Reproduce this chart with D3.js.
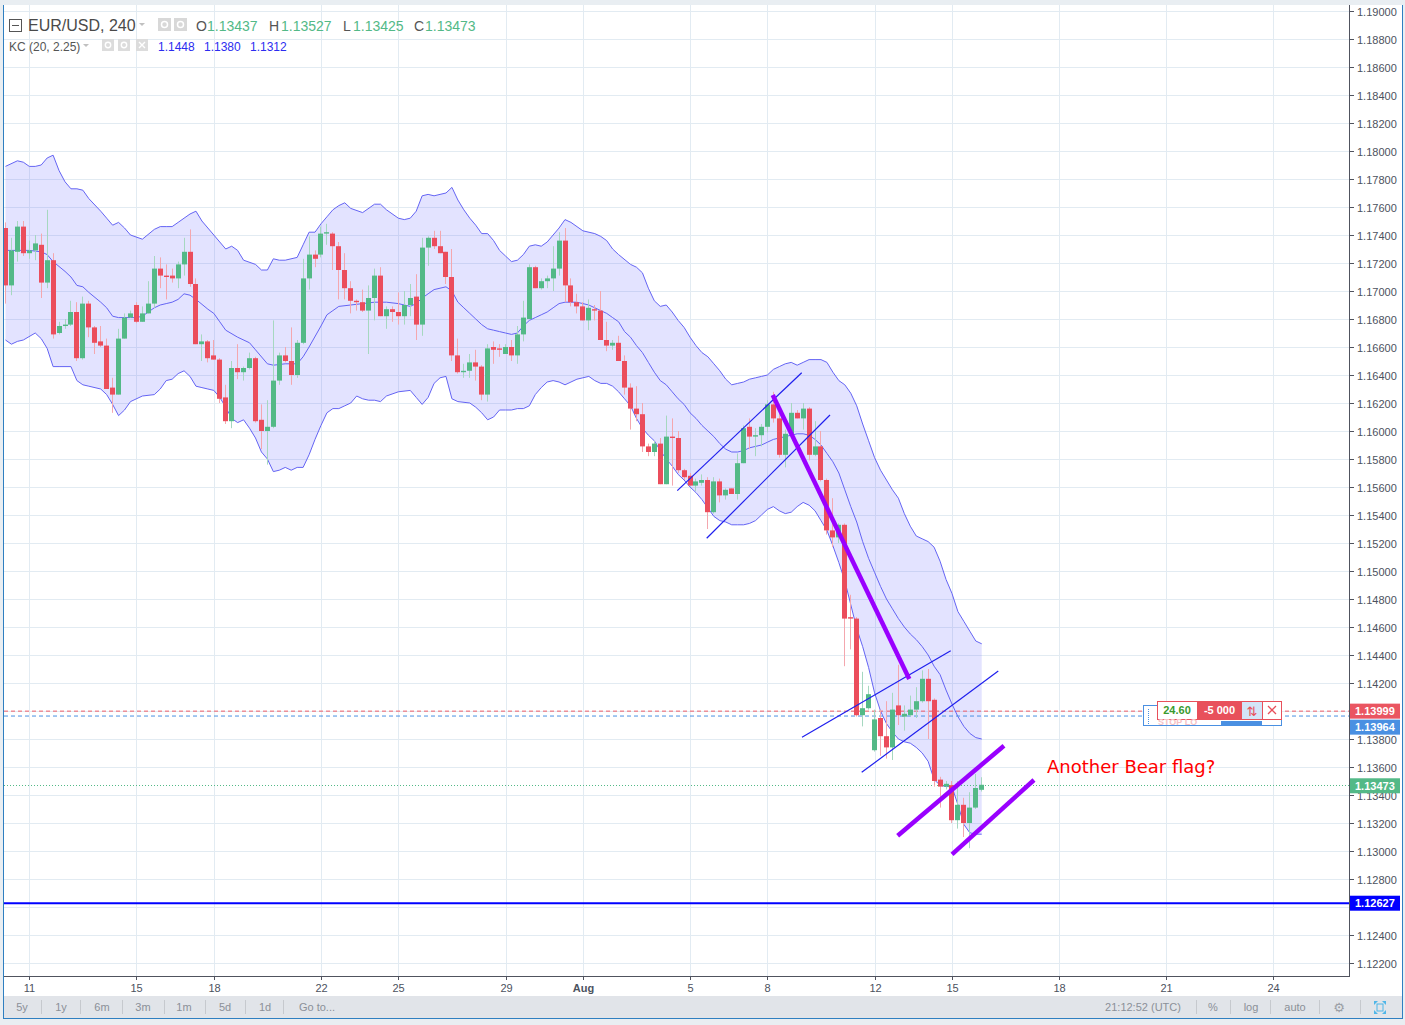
<!DOCTYPE html>
<html><head><meta charset="utf-8">
<script src="https://cdn.jsdelivr.net/npm/d3@7"></script>
<style>body{margin:0;background:#e9eef2;overflow:hidden}svg{display:block}</style>
</head><body><svg id="c" width="1405" height="1025"></svg>
<script>
// ---------------- DATA ----------------
const symbol = "EUR/USD, 240";
const indicatorName = "KC (20, 2.25)";
const headerOHLC = [["O","1.13437"],["H","1.13527"],["L","1.13425"],["C","1.13473"]];
const kcLast = ["1.1448","1.1380","1.1312"];
const startIndex = -4; // first visible bar, relative to the "11" tick
const opens = [
1.1745,1.1704,1.1728,1.1746,1.1727,1.1729,1.1733,1.1706,1.1722,1.1670,
1.1675,1.1676,1.1685,1.1652,1.1691,1.1674,1.1664,1.1661,1.1631,1.1626,
1.1666,1.1681,1.1690,1.1678,1.1684,1.1691,1.1716,1.1711,1.1711,1.1709,
1.1719,1.1728,1.1705,1.1662,1.1664,1.1654,1.1651,1.1624,1.1607,1.1645,
1.1642,1.1645,1.1652,1.1608,1.1600,1.1603,1.1636,1.1654,1.1650,1.1640,
1.1663,1.1709,1.1726,1.1726,1.1741,1.1741,1.1732,1.1715,1.1702,1.1693,
1.1692,1.1686,1.1695,1.1711,1.1682,1.1687,1.1685,1.1682,1.1690,1.1696,
1.1676,1.1731,1.1738,1.1732,1.1728,1.1710,1.1654,1.1642,1.1643,1.1649,
1.1646,1.1626,1.1660,1.1659,1.1655,1.1660,1.1654,1.1669,1.1680,1.1717,
1.1702,1.1707,1.1709,1.1716,1.1736,1.1704,1.1692,1.1689,1.1679,1.1687,
1.1686,1.1665,1.1661,1.1663,1.1650,1.1631,1.1616,1.1612,1.1589,1.1585,
1.1591,1.1562,1.1596,1.1595,1.1572,1.1568,1.1561,1.1563,1.1565,1.1542,
1.1564,1.1554,1.1559,1.1555,1.1577,1.1603,1.1596,1.1597,1.1603,1.1619,
1.1609,1.1583,1.1598,1.1613,1.1609,1.1616,1.1583,1.1589,1.1565,1.1529,
1.1524,1.1533,1.1467,1.1466,1.1397,1.1402,1.1372,1.1395,1.1382,1.1374,
1.1404,1.1396,1.1397,1.1401,1.1407,1.1423,1.1408,1.1351,1.1346,1.1347,
1.1322,1.1333,1.1320,1.1331,1.13437];
const highs = [
1.1749,1.1738,1.1750,1.1750,1.1736,1.1740,1.1741,1.1758,1.1727,1.1678,
1.1680,1.1693,1.1692,1.1696,1.1693,1.1675,1.1675,1.1666,1.1638,1.1673,
1.1684,1.1686,1.1692,1.1689,1.1707,1.1725,1.1724,1.1719,1.1716,1.1721,
1.1738,1.1744,1.1709,1.1669,1.1665,1.1665,1.1652,1.1633,1.1650,1.1662,
1.1646,1.1656,1.1653,1.1619,1.1622,1.1679,1.1656,1.1660,1.1674,1.1665,
1.1723,1.1739,1.1729,1.1746,1.1748,1.1742,1.1735,1.1727,1.1707,1.1694,
1.1701,1.1704,1.1716,1.1717,1.1689,1.1689,1.1699,1.1700,1.1705,1.1712,
1.1738,1.1739,1.1743,1.1743,1.1728,1.1730,1.1666,1.1648,1.1655,1.1658,
1.1647,1.1662,1.1664,1.1662,1.1662,1.1665,1.1675,1.1693,1.1719,1.1718,
1.1709,1.1711,1.1732,1.1742,1.1745,1.1709,1.1698,1.1692,1.1694,1.1690,
1.1700,1.1678,1.1665,1.1668,1.1654,1.1634,1.1632,1.1620,1.1591,1.1593,
1.1595,1.1611,1.1609,1.1600,1.1573,1.1570,1.1566,1.1569,1.1567,1.1567,
1.1566,1.1559,1.1559,1.1584,1.1604,1.1609,1.1602,1.1605,1.1622,1.1628,
1.1616,1.1601,1.1620,1.1615,1.1620,1.1617,1.1607,1.1600,1.1566,1.1552,
1.1534,1.1534,1.1483,1.1467,1.1428,1.1418,1.1401,1.1401,1.1407,1.1413,
1.1433,1.1404,1.1411,1.1417,1.1429,1.1430,1.1409,1.1353,1.1350,1.1350,
1.1350,1.1338,1.1342,1.1355,1.13527];
const lows = [
1.1691,1.1697,1.1721,1.1725,1.1723,1.1722,1.1695,1.1702,1.1666,1.1669,
1.1673,1.1675,1.1650,1.1651,1.1667,1.1655,1.1660,1.1630,1.1613,1.1626,
1.1666,1.1681,1.1677,1.1678,1.1684,1.1688,1.1702,1.1694,1.1706,1.1702,
1.1711,1.1703,1.1662,1.1650,1.1649,1.1651,1.1620,1.1605,1.1602,1.1637,
1.1636,1.1644,1.1606,1.1587,1.1576,1.1602,1.1633,1.1649,1.1633,1.1638,
1.1662,1.1701,1.1717,1.1724,1.1733,1.1715,1.1694,1.1694,1.1684,1.1686,
1.1685,1.1655,1.1679,1.1682,1.1673,1.1678,1.1676,1.1676,1.1682,1.1665,
1.1668,1.1718,1.1730,1.1727,1.1705,1.1650,1.1641,1.1638,1.1638,1.1636,
1.1622,1.1621,1.1648,1.1653,1.1655,1.1650,1.1648,1.1664,1.1680,1.1702,
1.1701,1.1702,1.1700,1.1711,1.1692,1.1689,1.1684,1.1679,1.1672,1.1679,
1.1665,1.1657,1.1658,1.1650,1.1626,1.1601,1.1607,1.1585,1.1582,1.1582,
1.1562,1.1562,1.1561,1.1570,1.1565,1.1561,1.1557,1.1561,1.1530,1.1541,
1.1549,1.1551,1.1555,1.1551,1.1577,1.1587,1.1582,1.1589,1.1599,1.1606,
1.1581,1.1574,1.1597,1.1609,1.1601,1.1579,1.1582,1.1564,1.1526,1.1517,
1.1520,1.1432,1.1444,1.1396,1.1389,1.1401,1.1371,1.1368,1.1366,1.1365,
1.1390,1.1386,1.1396,1.1395,1.1406,1.1380,1.1346,1.1331,1.1344,1.1320,
1.1316,1.1310,1.1302,1.1330,1.13425];
const closes = [
1.1704,1.1729,1.1746,1.1727,1.1729,1.1734,1.1706,1.1722,1.1669,1.1675,
1.1676,1.1685,1.1652,1.1691,1.1674,1.1663,1.1661,1.1630,1.1626,1.1666,
1.1681,1.1684,1.1678,1.1684,1.1691,1.1716,1.1711,1.1710,1.1709,1.1719,
1.1728,1.1705,1.1662,1.1664,1.1652,1.1651,1.1623,1.1607,1.1645,1.1642,
1.1645,1.1652,1.1607,1.1600,1.1603,1.1636,1.1654,1.1650,1.1640,1.1663,
1.1709,1.1726,1.1723,1.1741,1.1742,1.1732,1.1715,1.1702,1.1693,1.1692,
1.1686,1.1695,1.1711,1.1682,1.1687,1.1685,1.1682,1.1690,1.1695,1.1676,
1.1731,1.1738,1.1732,1.1727,1.1710,1.1654,1.1642,1.1643,1.1649,1.1646,
1.1626,1.1659,1.1658,1.1658,1.1660,1.1654,1.1669,1.1681,1.1717,1.1702,
1.1707,1.1709,1.1716,1.1736,1.1704,1.1692,1.1689,1.1679,1.1688,1.1686,
1.1665,1.1661,1.1663,1.1650,1.1631,1.1616,1.1612,1.1589,1.1585,1.1591,
1.1562,1.1596,1.1595,1.1572,1.1567,1.1561,1.1564,1.1565,1.1542,1.1564,
1.1554,1.1558,1.1555,1.1577,1.1602,1.1596,1.1597,1.1603,1.1619,1.1609,
1.1583,1.1598,1.1613,1.1609,1.1616,1.1583,1.1589,1.1565,1.1529,1.1524,
1.1533,1.1466,1.1466,1.1397,1.1402,1.1412,1.1394,1.1382,1.1374,1.1401,
1.1397,1.1398,1.1401,1.1407,1.1423,1.1407,1.1350,1.1346,1.1348,1.1322,
1.1333,1.1320,1.1331,1.1345,1.13473];

// Keltner channel: [bar index, price]
const kcUpper = [[-4,1.1789],[-2,1.1793],[-1,1.1792],[0,1.1789],[1,1.1789],[2,1.1790],[3,1.1795],[4,1.1797],[5,1.1786],[6,1.1778],[7,1.1773],[8,1.1773],[9,1.1772],[10,1.1766],[12,1.1757],[13,1.1752],[14,1.1747],[15,1.1749],[16,1.1745],[17,1.1740],[19,1.1737],[21,1.1744],[22,1.1746],[23,1.1746],[24,1.1746],[25,1.1749],[27,1.1755],[28,1.1757],[29,1.1750],[31,1.1740],[32,1.1735],[33,1.1730],[34,1.1732],[35,1.1729],[36,1.1722],[38,1.1719],[39,1.1715],[40,1.1715],[41,1.1723],[42,1.1722],[43,1.1722],[45,1.1724],[46,1.1733],[47,1.1742],[48,1.1742],[49,1.1748],[50,1.1753],[51,1.1758],[52,1.1761],[53,1.1763],[54,1.1759],[56,1.1756],[58,1.1762],[59,1.1762],[60,1.1758],[62,1.1752],[63,1.1751],[64,1.1752],[65,1.1757],[66,1.1768],[67,1.1769],[68,1.1768],[69,1.1769],[70,1.1770],[71,1.1774],[72,1.1765],[73,1.1758],[74,1.1752],[75,1.1747],[76,1.1741],[77,1.1741],[78,1.1736],[79,1.1729],[80,1.1725],[81,1.1721],[82,1.1722],[83,1.1726],[84,1.1732],[85,1.1733],[86,1.1732],[87,1.1735],[88,1.1740],[89,1.1745],[90,1.1751],[91,1.1749],[93,1.1743],[95,1.1741],[96,1.1739],[97,1.1736],[98,1.1730],[99,1.1726],[101,1.1719],[102,1.1717],[103,1.1713],[104,1.1702],[105,1.1693],[106,1.1689],[107,1.1690],[108,1.1685],[109,1.1679],[110,1.1674],[111,1.1667],[112,1.1661],[113,1.1656],[114,1.1653],[115,1.1648],[116,1.1643],[117,1.1637],[118,1.1633],[119,1.1634],[120,1.1635],[121,1.1637],[122,1.1638],[123,1.1639],[124,1.1640],[125,1.1644],[126,1.1646],[127,1.1648],[128,1.1649],[129,1.1647],[130,1.1649],[131,1.1651],[132,1.1651],[133,1.1651],[134,1.1649],[135,1.1642],[136,1.1636],[137,1.1633],[138,1.1627],[139,1.1618],[140,1.1605],[141,1.1593],[142,1.1581],[143,1.1572],[144,1.1565],[145,1.1558],[146,1.1552],[147,1.1541],[148,1.1532],[149,1.1525],[150,1.1523],[151,1.1521],[152,1.1517],[153,1.1507],[154,1.1494],[155,1.1484],[156,1.1471],[157,1.1464],[158,1.1457],[159,1.1450],[160,1.1448]];
const kcMiddle = [[-4,1.1729],[0,1.1729],[2,1.1728],[3,1.1726],[4,1.1721],[6,1.1714],[7,1.1710],[8,1.1704],[9,1.1703],[10,1.1699],[12,1.1692],[13,1.1688],[14,1.1682],[15,1.1681],[17,1.1681],[18,1.1681],[19,1.1682],[20,1.1685],[21,1.1688],[22,1.1690],[23,1.1691],[24,1.1692],[25,1.1694],[26,1.1698],[27,1.1697],[28,1.1694],[30,1.1687],[31,1.1684],[32,1.1678],[33,1.1672],[35,1.1667],[37,1.1663],[38,1.1658],[40,1.1648],[41,1.1647],[43,1.1648],[45,1.1648],[46,1.1653],[47,1.1660],[49,1.1675],[50,1.1683],[51,1.1686],[52,1.1689],[54,1.1690],[56,1.1691],[58,1.1692],[60,1.1692],[62,1.1691],[64,1.1689],[65,1.1691],[66,1.1695],[67,1.1698],[68,1.1701],[70,1.1703],[71,1.1700],[72,1.1692],[73,1.1688],[74,1.1684],[75,1.1680],[76,1.1676],[77,1.1673],[78,1.1672],[79,1.1671],[80,1.1670],[81,1.1669],[82,1.1670],[83,1.1675],[84,1.1679],[85,1.1681],[86,1.1683],[87,1.1685],[88,1.1688],[89,1.1691],[90,1.1692],[92,1.1692],[93,1.1691],[94,1.1690],[95,1.1688],[96,1.1686],[97,1.1684],[98,1.1681],[99,1.1678],[100,1.1671],[101,1.1667],[102,1.1661],[103,1.1656],[104,1.1649],[105,1.1642],[106,1.1636],[107,1.1633],[108,1.1628],[109,1.1623],[110,1.1619],[111,1.1613],[112,1.1609],[113,1.1604],[114,1.1600],[115,1.1596],[116,1.1591],[117,1.1587],[118,1.1585],[119,1.1585],[120,1.1586],[121,1.1588],[122,1.1589],[123,1.1590],[124,1.1592],[125,1.1594],[126,1.1595],[127,1.1596],[128,1.1597],[129,1.1598],[130,1.1598],[131,1.1597],[132,1.1594],[133,1.1590],[134,1.1584],[135,1.1578],[136,1.1570],[137,1.1558],[138,1.1546],[139,1.1535],[140,1.1521],[141,1.1509],[142,1.1499],[143,1.1489],[144,1.1480],[145,1.1473],[146,1.1466],[147,1.1460],[148,1.1455],[149,1.1451],[150,1.1446],[151,1.1440],[152,1.1432],[153,1.1426],[154,1.1415],[155,1.1405],[156,1.1396],[157,1.1389],[158,1.1384],[159,1.1381],[160,1.1380]];
const kcLower = [[-4,1.1665],[-3,1.1662],[-2,1.1664],[-1,1.1665],[1,1.1670],[2,1.1666],[3,1.1659],[4,1.1646],[5,1.1646],[7,1.1646],[8,1.1636],[9,1.1633],[10,1.1632],[12,1.1630],[13,1.1626],[14,1.1619],[15,1.1611],[16,1.1615],[17,1.1621],[19,1.1625],[21,1.1626],[22,1.1630],[23,1.1636],[24,1.1637],[25,1.1641],[26,1.1643],[27,1.1639],[28,1.1632],[29,1.1631],[30,1.1630],[31,1.1629],[32,1.1624],[33,1.1617],[34,1.1609],[35,1.1606],[36,1.1608],[37,1.1602],[38,1.1595],[39,1.1585],[40,1.1580],[41,1.1571],[42,1.1572],[43,1.1574],[44,1.1572],[45,1.1574],[46,1.1574],[47,1.1583],[48,1.1594],[49,1.1604],[50,1.1613],[51,1.1616],[52,1.1616],[53,1.1618],[54,1.1620],[55,1.1625],[56,1.1623],[57,1.1622],[58,1.1622],[59,1.1621],[60,1.1625],[62,1.1628],[64,1.1629],[65,1.1624],[66,1.1619],[67,1.1624],[68,1.1634],[69,1.1638],[70,1.1639],[71,1.1623],[72,1.1621],[74,1.1620],[75,1.1617],[76,1.1613],[77,1.1608],[78,1.1610],[79,1.1615],[80,1.1615],[81,1.1615],[82,1.1616],[83,1.1616],[84,1.1618],[85,1.1626],[86,1.1631],[87,1.1635],[88,1.1636],[89,1.1635],[90,1.1633],[91,1.1635],[92,1.1637],[93,1.1638],[94,1.1639],[95,1.1636],[96,1.1634],[97,1.1634],[98,1.1632],[99,1.1628],[100,1.1623],[101,1.1618],[102,1.1609],[103,1.1602],[104,1.1597],[105,1.1593],[106,1.1586],[107,1.1580],[108,1.1575],[109,1.1569],[110,1.1565],[111,1.1560],[112,1.1556],[113,1.1551],[114,1.1545],[115,1.1539],[116,1.1536],[117,1.1535],[118,1.1533],[119,1.1533],[120,1.1533],[121,1.1534],[122,1.1536],[123,1.1540],[124,1.1544],[125,1.1546],[126,1.1543],[127,1.1541],[128,1.1542],[129,1.1546],[130,1.1549],[131,1.1547],[132,1.1543],[133,1.1536],[134,1.1529],[135,1.1518],[136,1.1506],[137,1.1493],[138,1.1476],[139,1.1459],[140,1.1446],[141,1.1431],[142,1.1413],[143,1.1400],[144,1.1391],[145,1.1385],[146,1.1380],[147,1.1378],[148,1.1377],[149,1.1374],[150,1.1370],[151,1.1364],[152,1.1351],[153,1.1347],[154,1.1346],[155,1.1346],[156,1.1333],[157,1.1319],[158,1.1313],[159,1.1312],[160,1.1312]];

// time axis
const dayLabels = ["11","15","18","22","25","29","Aug","5","8","12","15","18","21","24"];
const dayIndex  = [0,18,31,49,62,80,93,111,124,142,155,173,191,209];
const priceTickValues = d3.range(0,35).map(k => +(1.122 + k*0.002).toFixed(3));

// horizontal levels
const orderPrice = 1.13999, stopPrice = 1.13964, lastPrice = 1.13473, supportPrice = 1.12627;
// drawings: [barIndex1, price1, barIndex2, price2]
const thinLines = [[108.86,1.15574,129.76,1.16416],[113.80,1.15234,134.51,1.16114],[129.81,1.13813,154.79,1.14431],[139.84,1.13562,162.78,1.14286]];
const thickLines = [[124.89,1.16257,147.83,1.14229],[145.88,1.13109,163.74,1.13752],[155.01,1.12976,168.78,1.13507]];
const noteText = "Another Bear flag?", noteAt = [170.97, 1.13557];
const toolbarLeft = ["5y","1y","6m","3m","1m","5d","1d","Go to..."];

// ---------------- DRAW ----------------
const svg = d3.select("#c");
const FONT = "'Liberation Sans', Arial, sans-serif";
const x = d3.scaleLinear().domain([-4.08, 221.7]).range([5, 1349]);
const y = d3.scaleLinear().domain([1.122, 1.19]).range([963, 11]);
const P = {l:4, r:1349, t:5, b:976};

svg.append("rect").attr("width",1405).attr("height",1025).attr("fill","#e9eef2");
svg.append("rect").attr("x",4).attr("y",5).attr("width",1398).attr("height",991).attr("fill","#fff");
svg.append("rect").attr("x",4).attr("y",996).attr("width",1398).attr("height",22).attr("fill","#e1e4e9");

const defs = svg.append("defs");
defs.append("clipPath").attr("id","plot").append("rect")
  .attr("x",P.l).attr("y",P.t).attr("width",P.r-P.l).attr("height",P.b-P.t);

const g = svg.append("g").attr("clip-path","url(#plot)");
const gridC = "#e2ebf2";
g.selectAll(".hg").data(priceTickValues).join("line")
  .attr("x1",P.l).attr("x2",P.r).attr("y1",d=>Math.round(y(d))+0.5).attr("y2",d=>Math.round(y(d))+0.5)
  .attr("stroke",gridC);
g.selectAll(".vg").data(dayIndex).join("line")
  .attr("x1",d=>Math.round(x(d))+0.5).attr("x2",d=>Math.round(x(d))+0.5).attr("y1",P.t).attr("y2",P.b)
  .attr("stroke",gridC);

// Keltner band
const line = d3.line().x(d=>x(d[0])).y(d=>y(d[1]));
g.append("path").attr("d", line(kcUpper.concat(kcLower.slice().reverse())) + "Z")
  .attr("fill","rgba(102,102,255,0.18)");
[kcUpper,kcMiddle,kcLower].forEach(s=>{
  g.append("path").attr("d",line(s)).attr("fill","none").attr("stroke","#6464f4").attr("stroke-width",1);
});

// horizontal levels
g.append("line").attr("x1",P.l).attr("x2",P.r).attr("y1",y(orderPrice)).attr("y2",y(orderPrice))
  .attr("stroke","#ef5b66").attr("stroke-dasharray","4,3");
g.append("line").attr("x1",P.l).attr("x2",P.r).attr("y1",y(stopPrice)).attr("y2",y(stopPrice))
  .attr("stroke","#4a90e2").attr("stroke-dasharray","4,3");
g.append("line").attr("x1",P.l).attr("x2",P.r).attr("y1",Math.round(y(lastPrice))+0.5).attr("y2",Math.round(y(lastPrice))+0.5)
  .attr("stroke","#53b987").attr("stroke-dasharray","1,2");
g.append("line").attr("x1",P.l).attr("x2",P.r).attr("y1",y(supportPrice)).attr("y2",y(supportPrice))
  .attr("stroke","#0000ff").attr("stroke-width",2);

// candles
const bars = opens.map((o,k)=>({i:startIndex+k,o,h:highs[k],l:lows[k],c:closes[k]}));
const cg = g.append("g");
bars.forEach(b=>{
  const up = b.c >= b.o;
  const left = Math.round(x(b.i) - 2.5);
  cg.append("line").attr("x1",left+2.5).attr("x2",left+2.5).attr("y1",y(b.h)).attr("y2",y(b.l))
    .attr("stroke", up ? "#a6d8c0" : "#f4a7ae").attr("stroke-width",1);
  const yt = y(Math.max(b.o,b.c)), yb = y(Math.min(b.o,b.c));
  cg.append("rect").attr("x",left).attr("width",5).attr("y",yt).attr("height",Math.max(1,yb-yt))
    .attr("fill", up ? "#53b987" : "#eb4d5c");
});

// drawings
thinLines.forEach(d=>{
  g.append("line").attr("x1",x(d[0])).attr("y1",y(d[1])).attr("x2",x(d[2])).attr("y2",y(d[3]))
    .attr("stroke","#1f1fee").attr("stroke-width",1.2);
});
thickLines.forEach(d=>{
  g.append("line").attr("x1",x(d[0])).attr("y1",y(d[1])).attr("x2",x(d[2])).attr("y2",y(d[3]))
    .attr("stroke","#9900ff").attr("stroke-width",4.5);
});
g.append("text").attr("x",x(noteAt[0])).attr("y",y(noteAt[1])).text(noteText)
  .attr("fill","#ff0000").attr("font-family","'DejaVu Sans', sans-serif").attr("font-size",18);

// order widget
const wg = svg.append("g");
wg.append("rect").attr("x",1143.5).attr("y",705.5).attr("width",138).attr("height",20).attr("fill","#fff").attr("stroke","#4a90e2");
wg.append("line").attr("x1",1148.5).attr("x2",1148.5).attr("y1",709).attr("y2",724).attr("stroke","#4a90e2").attr("stroke-dasharray","1,1");
wg.append("rect").attr("x",1221).attr("y",721).attr("width",41).attr("height",4).attr("fill","#4a90e2");
wg.append("rect").attr("x",1157.5).attr("y",701.5).attr("width",124).attr("height",18).attr("fill","#fff").attr("stroke","#e8505b");
wg.append("text").attr("x",1158).attr("y",725).text("STOP LO").attr("fill","#f6c1c5").attr("font-family",FONT).attr("font-size",9).attr("font-weight","bold");
wg.append("text").attr("x",1177).attr("y",714).attr("text-anchor","middle").text("24.60")
  .attr("fill","#3a9a2e").attr("font-family",FONT).attr("font-size",11).attr("font-weight","bold");
wg.append("rect").attr("x",1197).attr("y",701.5).attr("width",45).attr("height",18).attr("fill","#e8505b");
wg.append("text").attr("x",1219.5).attr("y",714).attr("text-anchor","middle").text("-5 000")
  .attr("fill","#fff").attr("font-family",FONT).attr("font-size",11).attr("font-weight","bold");
wg.append("rect").attr("x",1242).attr("y",702).attr("width",20).attr("height",17).attr("fill","#d3e5f8");
wg.append("text").attr("x",1252).attr("y",715.5).attr("text-anchor","middle").text("⇅")
  .attr("fill","#e8505b").attr("font-family","'DejaVu Sans', sans-serif").attr("font-size",13);
wg.append("line").attr("x1",1262.5).attr("x2",1262.5).attr("y1",702).attr("y2",719).attr("stroke","#e8505b");
wg.append("path").attr("d","M1268,706 L1276,714 M1276,706 L1268,714").attr("stroke","#e8505b").attr("stroke-width",1.3);

// axes frames
svg.append("line").attr("x1",1349.5).attr("x2",1349.5).attr("y1",5).attr("y2",977).attr("stroke","#50535e");
svg.append("line").attr("x1",4).attr("x2",1350).attr("y1",976.5).attr("y2",976.5).attr("stroke","#50535e");

// price axis
const tagPrices = [orderPrice, stopPrice, lastPrice, supportPrice];
const pa = svg.append("g");
priceTickValues.forEach(v=>{
  const yy = Math.round(y(v))+0.5;
  pa.append("line").attr("x1",1350).attr("x2",1354).attr("y1",yy).attr("y2",yy).attr("stroke","#50535e");
  const hidden = tagPrices.some(t => Math.abs(y(t) - y(v)) < 8);
  if (!hidden) pa.append("text").attr("x",1357).attr("y",yy+4).text(v.toFixed(5))
    .attr("fill","#4c525e").attr("font-family",FONT).attr("font-size",11);
});
// price tags
function tag(v, yc, fill){
  pa.append("rect").attr("x",1350).attr("y",yc-7.5).attr("width",50).attr("height",15).attr("fill",fill);
  pa.append("text").attr("x",1355).attr("y",yc+4).text(v.toFixed(5)).attr("fill","#fff")
    .attr("font-family",FONT).attr("font-size",11).attr("font-weight","bold");
}
tag(orderPrice, y(orderPrice), "#ea5561");
tag(stopPrice, Math.max(y(stopPrice), y(orderPrice)+16), "#4a90e2");
tag(lastPrice, y(lastPrice)+1, "#53b987");
tag(supportPrice, y(supportPrice), "#0000ff");

// time axis
const ta = svg.append("g");
dayIndex.forEach((d,k)=>{
  const xx = Math.round(x(d))+0.5;
  ta.append("line").attr("x1",xx).attr("x2",xx).attr("y1",977).attr("y2",980).attr("stroke","#50535e");
  ta.append("text").attr("x",xx).attr("y",992).attr("text-anchor","middle").text(dayLabels[k])
    .attr("fill","#4c525e").attr("font-family",FONT).attr("font-size",11)
    .attr("font-weight", dayLabels[k]==="Aug" ? "bold" : "normal");
});

// toolbar
const tb = svg.append("g").attr("font-family",FONT).attr("font-size",11).attr("fill","#8b9098");
const tbX = [22,61,102,143,184,225,265,317], tbSep = [41.5,80.5,122.5,164.5,205.5,245.5,283.5];
toolbarLeft.forEach((t,k)=>tb.append("text").attr("x",tbX[k]).attr("y",1011).attr("text-anchor","middle").text(t));
tbSep.forEach(s=>tb.append("line").attr("x1",s).attr("x2",s).attr("y1",1000).attr("y2",1014).attr("stroke","#c6c9ce"));
[["21:12:52 (UTC)",1143],["%",1213],["log",1251],["auto",1295]].forEach(d=>
  tb.append("text").attr("x",d[1]).attr("y",1011).attr("text-anchor","middle").text(d[0]));
[1196.5,1230.5,1270.5,1319.5,1360.5].forEach(s=>tb.append("line").attr("x1",s).attr("x2",s).attr("y1",1000).attr("y2",1014).attr("stroke","#c6c9ce"));
tb.append("text").attr("x",1339).attr("y",1012).attr("text-anchor","middle").text("⚙")
  .attr("font-family","'DejaVu Sans', sans-serif").attr("font-size",13).attr("fill","#9a9ea5");
tb.append("path").attr("d","M1374,1001 l4,0 l-4,4 z M1386,1001 l-4,0 l4,4 z M1374,1014 l4,0 l-4,-4 z M1386,1014 l-4,0 l4,-4 z")
  .attr("fill","#4fb6e8");
tb.append("rect").attr("x",1377).attr("y",1004).attr("width",6).attr("height",7).attr("fill","none").attr("stroke","#4fb6e8");

// borders
svg.append("line").attr("x1",3.5).attr("x2",3.5).attr("y1",5).attr("y2",1019).attr("stroke","#2f7fc1");
svg.append("line").attr("x1",1402.5).attr("x2",1402.5).attr("y1",5).attr("y2",1019).attr("stroke","#2f7fc1");
svg.append("line").attr("x1",3).attr("x2",1403).attr("y1",1018.5).attr("y2",1018.5).attr("stroke","#2f7fc1");

// header
const hd = svg.append("g").attr("font-family",FONT);
hd.append("rect").attr("x",9.5).attr("y",19.5).attr("width",12).attr("height",12).attr("fill","none").attr("stroke","#555");
hd.append("line").attr("x1",12).attr("x2",19).attr("y1",25.5).attr("y2",25.5).attr("stroke","#555");
hd.append("text").attr("x",28).attr("y",31).text(symbol).attr("font-size",16).attr("fill","#4a4a4a");
hd.append("path").attr("d","M139,23 l6,0 l-3,3 z").attr("fill","#c0c0c0");
[[158,18],[174,18]].forEach(p=>{
  hd.append("rect").attr("x",p[0]).attr("y",p[1]).attr("width",13).attr("height",13).attr("fill","#d8d8d8");
  hd.append("circle").attr("cx",p[0]+6.5).attr("cy",p[1]+6.5).attr("r",3).attr("fill","none").attr("stroke","#fff").attr("stroke-width",1.5);
});
const ohlcX = [[196,207],[269,281],[343,353],[414,425]];
headerOHLC.forEach((d,k)=>{
  hd.append("text").attr("x",ohlcX[k][0]).attr("y",31).text(d[0]).attr("font-size",14).attr("fill","#555");
  hd.append("text").attr("x",ohlcX[k][1]).attr("y",31).text(d[1]).attr("font-size",14).attr("fill","#53b987");
});
hd.append("text").attr("x",9).attr("y",51).text(indicatorName).attr("font-size",12).attr("fill","#555");
hd.append("path").attr("d","M83,44 l6,0 l-3,3 z").attr("fill","#c0c0c0");
[102,118,136].forEach((px,k)=>{
  hd.append("rect").attr("x",px).attr("y",39).attr("width",12).attr("height",12).attr("fill","#dcdcdc");
  if(k<2) hd.append("circle").attr("cx",px+6).attr("cy",45).attr("r",2.7).attr("fill","none").attr("stroke","#fff").attr("stroke-width",1.4);
  else hd.append("path").attr("d",`M${px+3},42 l6,6 M${px+9},42 l-6,6`).attr("stroke","#fff").attr("stroke-width",1.4);
});
[158,204,250].forEach((px,k)=>hd.append("text").attr("x",px).attr("y",51).text(kcLast[k]).attr("font-size",12).attr("fill","#2c2cf0"));
</script>
</body></html>
